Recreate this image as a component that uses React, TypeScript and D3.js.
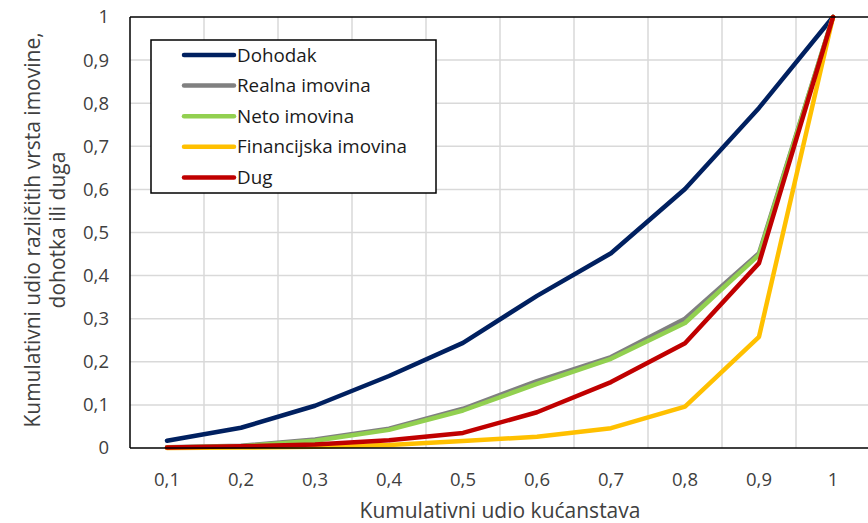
import React, { useRef, useEffect } from 'react';
import * as d3 from 'd3';

const CATEGORIES = ['0,1', '0,2', '0,3', '0,4', '0,5', '0,6', '0,7', '0,8', '0,9', '1'];
const Y_TICKS = [0, 0.1, 0.2, 0.3, 0.4, 0.5, 0.6, 0.7, 0.8, 0.9, 1];

const DOHODAK = [0.017, 0.047, 0.098, 0.167, 0.244, 0.353, 0.452, 0.601, 0.789, 1];
const REALNA = [0.002, 0.005, 0.02, 0.045, 0.091, 0.155, 0.211, 0.3, 0.452, 1];
const NETO = [0.001, 0.004, 0.017, 0.042, 0.087, 0.149, 0.207, 0.29, 0.448, 1];
const FINANCIJSKA = [0, 0.001, 0.003, 0.007, 0.016, 0.026, 0.046, 0.096, 0.258, 1];
const DUG = [0.001, 0.004, 0.008, 0.018, 0.035, 0.083, 0.153, 0.243, 0.429, 1];

const SERIES = [
  { name: 'Dohodak', values: DOHODAK, color: '#002060' },
  { name: 'Realna imovina', values: REALNA, color: '#808080' },
  { name: 'Neto imovina', values: NETO, color: '#92D050' },
  { name: 'Financijska imovina', values: FINANCIJSKA, color: '#FFC000' },
  { name: 'Dug', values: DUG, color: '#C00000' },
];

const FONT = '"Open Sans", Lato, sans-serif';

const App: React.FC = () => {
  const svgRef = useRef<SVGSVGElement>(null);

  useEffect(() => {
    if (!svgRef.current) return;
    const W = 868;
    const H = 523;
    const left = 130;
    const right = 870;
    const top = 17;
    const bottom = 448;

    const svg = d3.select(svgRef.current);
    svg.selectAll('*').remove();
    svg.attr('width', W).attr('height', H);

    const x = d3.scaleBand().domain(CATEGORIES).range([left, right]).padding(0);
    const y = d3.scaleLinear().domain([0, 1]).range([bottom, top]);

    // grid
    const grid = svg.append('g');
    grid.selectAll('line.h')
      .data(Y_TICKS.slice(1, -1))
      .join('line')
      .attr('x1', left).attr('x2', right)
      .attr('y1', d => y(d)).attr('y2', d => y(d))
      .attr('stroke', '#d9d9d9').attr('stroke-width', 1.5);
    grid.selectAll('line.v')
      .data(CATEGORIES.slice(1))
      .join('line')
      .attr('x1', d => x(d)!).attr('x2', d => x(d)!)
      .attr('y1', top).attr('y2', bottom)
      .attr('stroke', '#d9d9d9').attr('stroke-width', 1.5);

    // lines
    const line = d3.line<number>()
      .x((_, i) => x(CATEGORIES[i])! + x.bandwidth() / 2)
      .y(d => y(d));
    svg.append('g')
      .selectAll('path')
      .data(SERIES)
      .join('path')
      .attr('d', d => line(d.values))
      .attr('fill', 'none')
      .attr('stroke', d => d.color)
      .attr('stroke-width', 4.5)
      .attr('stroke-linejoin', 'round')
      .attr('stroke-linecap', 'round');

    // plot border / axes
    svg.append('line').attr('x1', left).attr('x2', right).attr('y1', top).attr('y2', top)
      .attr('stroke', '#000').attr('stroke-width', 1.5);
    svg.append('line').attr('x1', left).attr('x2', right).attr('y1', bottom).attr('y2', bottom)
      .attr('stroke', '#000').attr('stroke-width', 1.5);
    svg.append('line').attr('x1', left).attr('x2', left).attr('y1', top).attr('y2', bottom)
      .attr('stroke', '#000').attr('stroke-width', 1.5);

    // y tick labels
    svg.append('g')
      .selectAll('text')
      .data(Y_TICKS)
      .join('text')
      .attr('x', 109)
      .attr('y', d => y(d))
      .attr('dy', '0.35em')
      .attr('text-anchor', 'end')
      .attr('font-family', FONT)
      .attr('font-size', 18.5)
      .attr('fill', '#404040')
      .text(d => (d === 0 || d === 1 ? String(d) : d.toFixed(1).replace('.', ',')));

    // x tick labels
    svg.append('g')
      .selectAll('text')
      .data(CATEGORIES)
      .join('text')
      .attr('x', d => x(d)! + x.bandwidth() / 2)
      .attr('y', 480)
      .attr('dy', '0.35em')
      .attr('text-anchor', 'middle')
      .attr('font-family', FONT)
      .attr('font-size', 18.5)
      .attr('fill', '#404040')
      .text(d => d);

    // axis titles
    svg.append('text')
      .attr('x', 500).attr('y', 511).attr('dy', '0.35em')
      .attr('text-anchor', 'middle')
      .attr('font-family', FONT).attr('font-size', 21).attr('fill', '#404040')
      .text('Kumulativni udio kućanstava');
    const yt = svg.append('text')
      .attr('transform', 'translate(0,230) rotate(-90)')
      .attr('text-anchor', 'middle')
      .attr('font-family', FONT).attr('font-size', 21).attr('fill', '#404040');
    yt.append('tspan').attr('x', 0).attr('y', 33).attr('dy', '0.35em').text('Kumulativni udio različitih vrsta imovine,');
    yt.append('tspan').attr('x', 0).attr('y', 58).attr('dy', '0.35em').text('dohotka ili duga');

    // legend
    const lg = svg.append('g');
    lg.append('rect')
      .attr('x', 151).attr('y', 40).attr('width', 285).attr('height', 153)
      .attr('fill', '#fff').attr('stroke', '#000').attr('stroke-width', 1.5);
    const rows = lg.selectAll('g.row')
      .data(SERIES)
      .join('g')
      .attr('transform', (_, i) => `translate(0,${55 + i * 30.6})`);
    rows.append('line')
      .attr('x1', 184).attr('x2', 234).attr('y1', 0).attr('y2', 0)
      .attr('stroke', d => d.color).attr('stroke-width', 4.5)
      .attr('stroke-linecap', 'round');
    rows.append('text')
      .attr('x', 237).attr('y', 0).attr('dy', '0.35em')
      .attr('font-family', FONT).attr('font-size', 18.8).attr('fill', '#1a1a1a')
      .text(d => d.name);
  }, []);

  return <svg ref={svgRef} style={{ position: 'absolute', left: 0, top: 0, background: '#fff' }} />;
};

export default App;
